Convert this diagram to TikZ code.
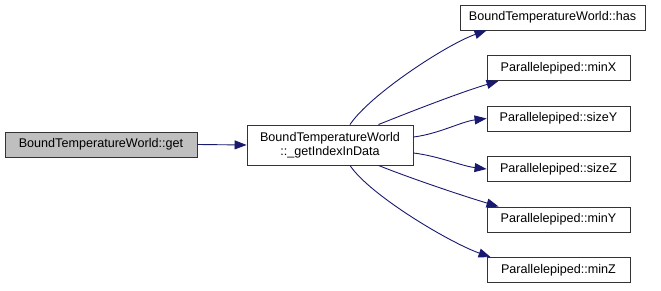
\documentclass[tikz,border=0pt]{standalone}
\usepackage{fontspec}
\setmainfont{Liberation Sans}
\usetikzlibrary{arrows.meta,calc}
\definecolor{edgeblue}{HTML}{191970}
\definecolor{rootgray}{HTML}{BFBFBF}
\tikzset{
  fn/.style={draw=black!80, line width=0.9pt, fill=white, inner sep=0pt,
    minimum height=25pt, align=center,
    font=\fontsize{12.6}{14.5}\selectfont},
  call/.style={draw=edgeblue, line width=0.9pt,
    -{Triangle[length=12pt,width=9pt]}, fill=none},
}
\begin{document}
\begin{tikzpicture}[x=1pt,y=-1pt]
\useasboundingbox (0,0) rectangle (661,291);
\node[fn, fill=rootgray, minimum width=192pt] (get) at (101,144.5) {BoundTemperatureWorld::get};
\node[fn, minimum width=166pt, minimum height=40pt] (idx) at (330,145) {BoundTemperatureWorld\\::\_getIndexInData};
\node[fn, minimum width=185pt] (has) at (552.5,17.5) {BoundTemperatureWorld::has};
\node[fn, minimum width=143pt] (minX) at (558.5,68) {Parallelepiped::minX};
\node[fn, minimum width=143pt] (sizeY) at (558.5,118.5) {Parallelepiped::sizeY};
\node[fn, minimum width=143pt] (sizeZ) at (558.5,169) {Parallelepiped::sizeZ};
\node[fn, minimum width=143pt] (minY) at (558.5,219.5) {Parallelepiped::minY};
\node[fn, minimum width=143pt] (minZ) at (558.5,270) {Parallelepiped::minZ};

\draw[call] (get.east) -- (idx.west);
\draw[call] ($(idx.north)+(20,0)$) .. controls +(20,-30) and +(-40,14) .. ($(has.south west)+(27,0)$);
\draw[call] ($(idx.north east)+(-35,0)$) .. controls +(30,-12) and +(-40,12) .. ($(minX.south west)+(12,0)$);
\draw[call] ($(idx.east)+(0,-8)$) .. controls +(25,-3) and +(-25,3) .. (sizeY.west);
\draw[call] ($(idx.east)+(0,8)$) .. controls +(25,3) and +(-25,-3) .. (sizeZ.west);
\draw[call] ($(idx.south east)+(-35,0)$) .. controls +(30,12) and +(-40,-12) .. ($(minY.north west)+(12,0)$);
\draw[call] ($(idx.south)+(20,0)$) .. controls +(20,30) and +(-40,-14) .. ($(minZ.north west)+(4,0)$);
\end{tikzpicture}
\end{document}
